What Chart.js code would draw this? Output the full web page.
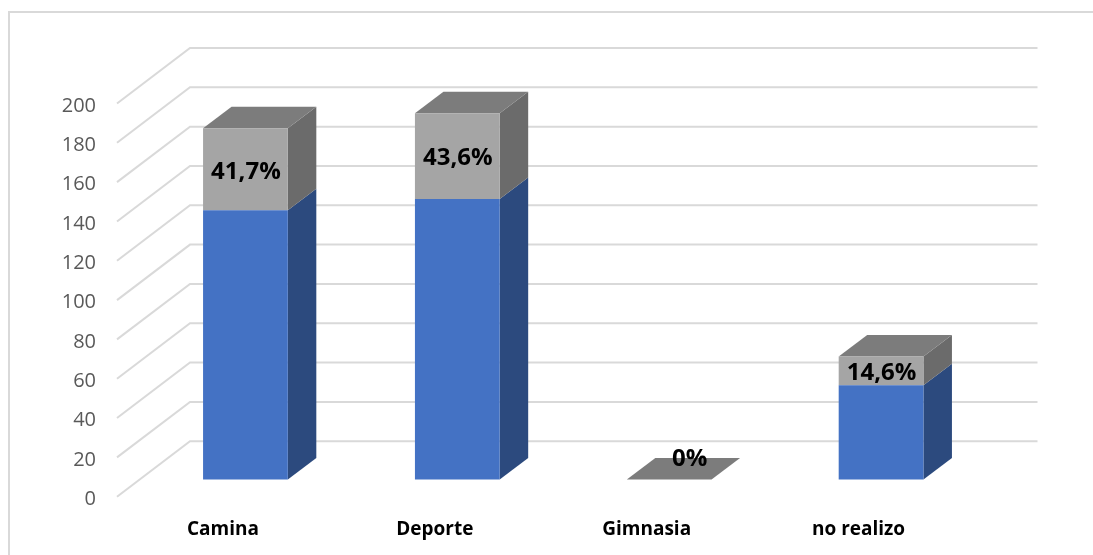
<!DOCTYPE html>
<html>
<head>
<meta charset="utf-8">
<title>Actividad</title>
<script src="https://cdn.jsdelivr.net/npm/chart.js@4"></script>
<style>
    html, body { margin: 0; padding: 0; background: #fff; overflow: hidden; }
    canvas { display: block; }
</style>
</head>
<body>
<canvas id="grafico" width="1093" height="555"></canvas>
<script>
"use strict";

var categorias = ["Camina", "Deporte", "Gimnasia", "no realizo"];
var valoresAzul = [137, 142.7, 0, 48];
var valoresGris = [41.7, 43.6, 0, 14.6];
var etiquetas = ["41,7%", "43,6%", "0%", "14,6%"];

// depth of the fake 3d box
var pared = { dx: 73, dy: 55.5 };
var barra = { shiftX: 22.5, shiftY: 17.2, dx: 28.5, dy: 21.5 };

function poligono(ctx, color, puntos) {
    ctx.fillStyle = color;
    ctx.beginPath();
    ctx.moveTo(puntos[0][0], puntos[0][1]);
    for (var i = 1; i < puntos.length; i++) {
        ctx.lineTo(puntos[i][0], puntos[i][1]);
    }
    ctx.closePath();
    ctx.fill();
}

var marco = {
    id: "marco",
    beforeDraw: function (chart) {
        var ctx = chart.ctx;
        ctx.save();
        ctx.fillStyle = "#fff";
        ctx.fillRect(0, 0, chart.width, chart.height);
        ctx.strokeStyle = "#d9d9d9";
        ctx.lineWidth = 2;
        ctx.beginPath();
        ctx.moveTo(9, chart.height);
        ctx.lineTo(9, 12);
        ctx.lineTo(chart.width, 12);
        ctx.stroke();
        ctx.restore();
    }
};

var caja3d = {
    id: "caja3d",
    beforeDatasetsDraw: function (chart) {
        var ctx = chart.ctx;
        var y = chart.scales.y;
        var area = chart.chartArea;

        // walls
        ctx.save();
        ctx.strokeStyle = "#d9d9d9";
        ctx.lineWidth = 2;
        y.ticks.forEach(function (t) {
            var py = y.getPixelForValue(t.value);
            ctx.beginPath();
            ctx.moveTo(area.left, py);
            ctx.lineTo(area.left + pared.dx, py - pared.dy);
            ctx.lineTo(area.right + pared.dx, py - pared.dy);
            ctx.stroke();
        });
        ctx.restore();

        // the library draws the front faces, shifted into the floor
        ctx.save();
        ctx.translate(barra.shiftX, -barra.shiftY);

        var azul = chart.getDatasetMeta(0).data;
        var gris = chart.getDatasetMeta(1).data;
        azul.forEach(function (b, i) {
            var g = gris[i];
            var d = g.x + g.width / 2;
            var iz = g.x - g.width / 2;
            poligono(ctx, "#2c4a7e", [[d, b.base], [d + barra.dx, b.base - barra.dy], [d + barra.dx, b.y - barra.dy], [d, b.y]]);
            poligono(ctx, "#6b6b6b", [[d, g.base], [d + barra.dx, g.base - barra.dy], [d + barra.dx, g.y - barra.dy], [d, g.y]]);
            poligono(ctx, "#7c7c7c", [[iz, g.y], [iz + barra.dx, g.y - barra.dy], [d + barra.dx, g.y - barra.dy], [d, g.y]]);
        });
    },
    afterDatasetsDraw: function (chart) {
        var ctx = chart.ctx;
        var gris = chart.getDatasetMeta(1).data;
        ctx.font = "bold 24px 'Open Sans'";
        ctx.fillStyle = "#000";
        ctx.textAlign = "center";
        ctx.textBaseline = "middle";
        gris.forEach(function (g, i) {
            var cx = g.x + 0.5;
            var cy = (g.y + g.base) / 2 + 2.5;
            if (valoresGris[i] === 0) {
                cx += 20;
                cy -= barra.dy + 1;
            }
            ctx.fillText(etiquetas[i], cx, cy);
        });
        ctx.restore();
    }
};

var datos = {
    type: "bar",
    data: {
        labels: categorias,
        datasets: [
            { data: valoresAzul, backgroundColor: "#4472c4", clip: false },
            { data: valoresGris, backgroundColor: "#a5a5a5", clip: false }
        ]
    },
    options: {
        responsive: false,
        animation: false,
        barPercentage: 0.4,
        categoryPercentage: 1,
        layout: { padding: { top: 103.5, right: 128.5, left: 0, bottom: 0 } },
        plugins: { legend: { display: false }, tooltip: { enabled: false } },
        scales: {
            x: {
                stacked: true,
                grid: { display: false },
                border: { display: false },
                ticks: {
                    color: "#000",
                    font: { family: "'Open Sans'", size: 19, weight: "bold" },
                    maxRotation: 0,
                    padding: 13
                },
                afterFit: function (s) { s.height = 58.3; }
            },
            y: {
                stacked: true,
                min: 0,
                max: 200,
                grid: { display: false, drawTicks: false },
                border: { display: false },
                ticks: {
                    stepSize: 20,
                    color: "#595959",
                    font: { family: "'Open Sans'", size: 20 },
                    padding: 21,
                    labelOffset: 2.5
                },
                afterFit: function (s) { s.width = 117; }
            }
        }
    },
    plugins: [marco, caja3d]
};

var lienzo = document.getElementById("grafico").getContext("2d");
window.grafico = new Chart(lienzo, datos);
</script>
</body>
</html>
